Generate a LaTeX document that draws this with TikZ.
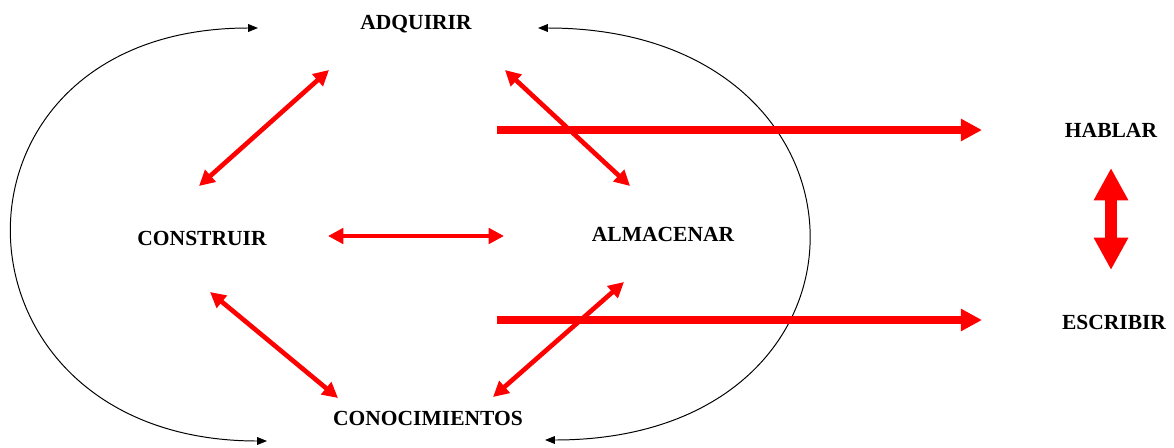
\documentclass[tikz,border=0pt]{standalone}
\usepackage{fontspec}
\setmainfont{Liberation Serif}
\usetikzlibrary{arrows.meta,calc}
\begin{document}
\begin{tikzpicture}[x=0.025cm,y=-0.025cm,
	word/.style={font=\fontsize{15.3}{18}\selectfont\bfseries},
	cyclearrow/.style={draw=black,line width=0.7pt,{Triangle[length=7pt,width=5.5pt]}-{Triangle[length=7pt,width=5.5pt]}},
	link/.style={draw=red,line width=3.3pt,{Triangle[length=11pt,width=11pt]}-{Triangle[length=11pt,width=11pt]}},
	outlink/.style={draw=red,line width=5.7pt,-{Triangle[length=15pt,width=15pt]}},
	swap/.style={draw=red,line width=8.5pt,{Triangle[length=23pt,width=23pt]}-{Triangle[length=23pt,width=23pt]}}]
	\useasboundingbox (0,0) rectangle (1174,447);
	\node (adq)  at ( 416,  24)	[word]	{ADQUIRIR};
	\node (con)  at ( 202, 238)	[word]	{CONSTRUIR};
	\node (alm)  at ( 663, 234)	[word]	{ALMACENAR};
	\node (cono) at ( 428, 418)	[word]	{CONOCIMIENTOS};
	\node (hab)  at (1111, 130)	[word]	{HABLAR};
	\node (esc)  at (1114, 322)	[word]	{ESCRIBIR};
	\coordinate (fromH) at (497, 130);
	\coordinate (fromE) at (497, 320);
	% the cycle round the four words
	\draw[cyclearrow] ($(adq)+(-158,4)$) .. controls +(-333,0) and +(-333,0) .. ($(cono)+(-161,23)$);
	\draw[cyclearrow] ($(adq)+(122,4)$) .. controls +(355,0) and +(355,0) .. ($(cono)+(117,22)$);
	% links between the words
	\draw[link] ($(adq)+(-87,46)$) -- ($(con)+(-3,-52)$);
	\draw[link] ($(adq)+(89,46)$) -- ($(alm)+(-33,-48)$);
	\draw[link] ($(con)+(126,-2)$) -- ($(alm)+(-159,2)$);
	\draw[link] ($(con)+(8,54)$) -- ($(cono)+(-90,-20)$);
	\draw[link] ($(alm)+(-39,48)$) -- ($(cono)+(65,-21)$);
	\draw[outlink] (fromH) -- ($(hab)+(-129,0)$);
	\draw[outlink] (fromE) -- ($(esc)+(-132,-2)$);
	\draw[swap] ($(hab)+(0,38)$) -- ($(hab)+(0,140)$);
\end{tikzpicture}
\end{document}
